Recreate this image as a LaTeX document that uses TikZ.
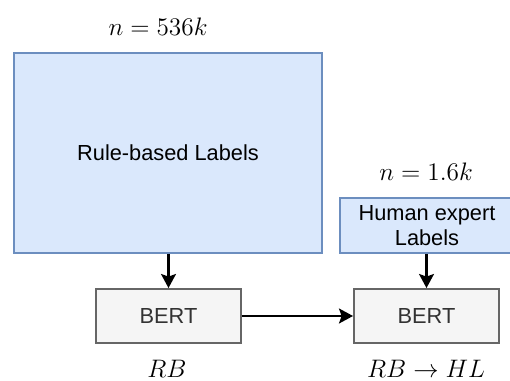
\documentclass[tikz,border=0pt]{standalone}
\usepackage{fontspec}
\usepackage{amsmath}
\usetikzlibrary{arrows.meta}
\newfontfamily\boxfont{Liberation Sans}

\definecolor{bluefill}{HTML}{DAE8FC}
\definecolor{blueline}{HTML}{6C8EBF}
\definecolor{grayfill}{HTML}{F5F5F5}
\definecolor{grayline}{HTML}{666666}
\definecolor{graytext}{HTML}{333333}

\begin{document}
\begin{tikzpicture}[x=0.02cm, y=-0.02cm,
  labelbox/.style={draw=blueline, fill=bluefill, line width=1.1pt, inner sep=0pt,
    align=center, font=\boxfont\fontsize{12.4}{14.5}\selectfont},
  modelbox/.style={draw=grayline, fill=grayfill, line width=1.1pt, inner sep=0pt,
    minimum width=2.9cm, minimum height=1.08cm, text=graytext,
    font=\boxfont\fontsize{12.4}{14.5}\selectfont},
  mathlabel/.style={font=\fontsize{14.4}{17}\selectfont},
  flow/.style={line width=1.2pt, -{Stealth[length=8pt,width=8.5pt,inset=1.5pt]}}]

\useasboundingbox (0,0) rectangle (510,381);

\node[labelbox, minimum width=6.16cm, minimum height=4cm] (rules) at (168,153) {Rule-based Labels};
\node[labelbox, minimum width=3.48cm, minimum height=1.1cm] (human) at (427,225.5) {Human expert\\Labels};

\node[modelbox] (bertrb) at (168.5,316) {BERT};
\node[modelbox] (berthl) at (426.5,316) {BERT};

\node[mathlabel] (nrules) at (158,27) {$n=536k$};
\node[mathlabel] (nhuman) at (426,172) {$n=1.6k$};
\node[mathlabel] (rb) at (167,369) {$RB$};
\node[mathlabel] (rbhl) at (426,369) {$RB\rightarrow HL$};

\draw[flow] (rules.south -| bertrb.north) -- (bertrb.north);
\draw[flow] (human.south -| berthl.north) -- (berthl.north);
\draw[flow] (bertrb) -- (berthl);

\end{tikzpicture}
\end{document}
